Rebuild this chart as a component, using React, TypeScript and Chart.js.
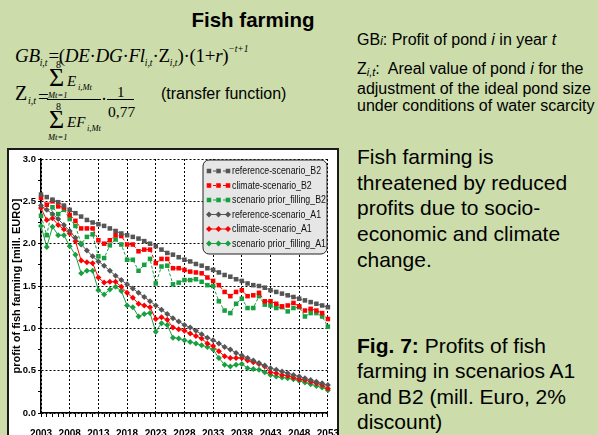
import React, { useEffect, useRef } from "react";
import { Chart, registerables } from "chart.js";

Chart.register(...registerables);

const YEARS = [
  2003, 2004, 2005, 2006, 2007, 2008, 2009, 2010, 2011, 2012,
  2013, 2014, 2015, 2016, 2017, 2018, 2019, 2020, 2021, 2022,
  2023, 2024, 2025, 2026, 2027, 2028, 2029, 2030, 2031, 2032,
  2033, 2034, 2035, 2036, 2037, 2038, 2039, 2040, 2041, 2042,
  2043, 2044, 2045, 2046, 2047, 2048, 2049, 2050, 2051, 2052, 2053,
];

const REF_B2 = [
  2.58, 2.55, 2.52, 2.49, 2.45, 2.4, 2.36, 2.32, 2.28, 2.25,
  2.23, 2.21, 2.18, 2.15, 2.12, 2.1, 2.08, 2.06, 2.03, 2.0,
  1.97, 1.93, 1.89, 1.87, 1.84, 1.81, 1.79, 1.76, 1.74, 1.71,
  1.69, 1.66, 1.63, 1.61, 1.58, 1.56, 1.53, 1.51, 1.5, 1.48,
  1.45, 1.43, 1.41, 1.39, 1.37, 1.35, 1.33, 1.31, 1.29, 1.27, 1.25,
];
const CLIMATE_B2 = [
  2.54, 2.46, 2.5, 2.44, 2.43, 2.34, 2.27, 2.18, 2.18, 2.18,
  2.04, 2.0, 2.04, 2.1, 2.09, 1.99, 1.99, 1.91, 1.93, 1.93,
  1.77, 1.82, 1.82, 1.71, 1.71, 1.69, 1.67, 1.66, 1.65, 1.6,
  1.56, 1.51, 1.43, 1.38, 1.43, 1.45, 1.38, 1.39, 1.42, 1.32,
  1.32, 1.29, 1.26, 1.27, 1.3, 1.26, 1.21, 1.23, 1.21, 1.18, 1.11,
];
const PRIOR_B2 = [
  2.33, 2.1, 2.43, 2.35, 2.4, 2.29, 2.21, 2.0, 2.08, 2.11,
  1.85, 1.83, 1.98, 2.05, 1.99, 1.81, 1.81, 1.68, 1.75, 1.82,
  1.53, 1.73, 1.74, 1.52, 1.54, 1.57, 1.57, 1.58, 1.55, 1.51,
  1.5, 1.32, 1.21, 1.18, 1.29, 1.35, 1.24, 1.24, 1.38, 1.28,
  1.27, 1.24, 1.25, 1.2, 1.24, 1.25, 1.14, 1.18, 1.18, 1.14, 1.02,
];
const REF_A1 = [
  2.45, 2.4, 2.35, 2.29, 2.22, 2.15, 2.07, 1.99, 1.92, 1.85,
  1.79, 1.74, 1.68, 1.62, 1.57, 1.52, 1.47, 1.42, 1.37, 1.32,
  1.27, 1.22, 1.17, 1.12, 1.08, 1.04, 1.01, 0.97, 0.93, 0.89,
  0.86, 0.82, 0.78, 0.75, 0.71, 0.68, 0.65, 0.62, 0.59, 0.56,
  0.53, 0.51, 0.49, 0.47, 0.45, 0.43, 0.41, 0.39, 0.37, 0.35, 0.33,
];
const CLIMATE_A1 = [
  2.42, 2.28, 2.3, 2.22, 2.17, 2.12, 2.03, 1.8, 1.78, 1.77,
  1.6, 1.54, 1.55, 1.55, 1.49, 1.42, 1.36, 1.29, 1.27, 1.25,
  1.11, 1.13, 1.1, 1.01, 0.99, 0.97, 0.94, 0.91, 0.88, 0.82,
  0.79, 0.73, 0.67, 0.65, 0.65, 0.65, 0.62, 0.6, 0.58, 0.55,
  0.48, 0.47, 0.45, 0.44, 0.42, 0.4, 0.39, 0.37, 0.35, 0.33, 0.29,
];
const PRIOR_A1 = [
  2.21, 1.96, 2.2, 2.1, 2.1, 1.97, 1.87, 1.65, 1.68, 1.68,
  1.45, 1.4, 1.46, 1.49, 1.44, 1.27, 1.25, 1.14, 1.17, 1.18,
  0.96, 1.06, 1.04, 0.89, 0.88, 0.86, 0.84, 0.82, 0.8, 0.78,
  0.75, 0.65, 0.57, 0.55, 0.57, 0.58, 0.53, 0.52, 0.51, 0.48,
  0.45, 0.43, 0.42, 0.41, 0.4, 0.38, 0.36, 0.34, 0.32, 0.3, 0.27,
];

const SERIES_LABELS = [
  "reference-scenario_B2",
  "climate-scenario_B2",
  "scenario prior_filling_B2",
  "reference-scenario_A1",
  "climate-scenario_A1",
  "scenario prior_filling_A1",
];

const X_MAJOR_TICKS = [2003, 2008, 2013, 2018, 2023, 2028, 2033, 2038, 2043, 2048, 2053];
const Y_MAJOR_TICKS = [0, 0.5, 1.0, 1.5, 2.0, 2.5, 3.0];
const Y_TITLE = "profit of fish farming [mill. EURO]";

const SANS = '"Liberation Sans", Arial, Helvetica, sans-serif';
const SERIF = '"Liberation Serif", "Times New Roman", Times, serif';

const GREY = "#555555";
const RED = "#ff0000";
const GREEN = "#16a040";

const isMajor = (list: number[], v: number) => list.some((t) => Math.abs(t - v) < 1e-6);

function drawMarker(ctx: CanvasRenderingContext2D, style: string, x: number, y: number, r: number) {
  ctx.beginPath();
  if (style === "rect") {
    const s = r * Math.SQRT1_2;
    ctx.rect(x - s, y - s, 2 * s, 2 * s);
  } else {
    ctx.moveTo(x, y - r);
    ctx.lineTo(x + r, y);
    ctx.lineTo(x, y + r);
    ctx.lineTo(x - r, y);
    ctx.closePath();
  }
  ctx.fill();
}

const boxLegend = {
  id: "boxLegend",
  afterDraw(chart: any) {
    const ctx: CanvasRenderingContext2D = chart.ctx;
    const x0 = 194, y0 = 10, w = 124, h = 94, r = 6;
    ctx.save();
    ctx.beginPath();
    ctx.moveTo(x0 + r, y0);
    ctx.arcTo(x0 + w, y0, x0 + w, y0 + h, r);
    ctx.arcTo(x0 + w, y0 + h, x0, y0 + h, r);
    ctx.arcTo(x0, y0 + h, x0, y0, r);
    ctx.arcTo(x0, y0, x0 + w, y0, r);
    ctx.closePath();
    ctx.fillStyle = "#e6e6e6";
    ctx.fill();
    ctx.lineWidth = 1;
    ctx.strokeStyle = "#222222";
    ctx.stroke();
    chart.data.datasets.forEach((ds: any, i: number) => {
      const cy = y0 + 11 + i * 14.5;
      ctx.strokeStyle = ds.borderColor;
      ctx.fillStyle = ds.borderColor;
      ctx.lineWidth = 1;
      ctx.setLineDash(ds.borderDash || []);
      ctx.beginPath();
      ctx.moveTo(x0 + 5, cy);
      ctx.lineTo(x0 + 26, cy);
      ctx.stroke();
      ctx.setLineDash([]);
      [x0 + 6, x0 + 15.5, x0 + 25].forEach((mx) => drawMarker(ctx, ds.pointStyle, mx, cy, ds.pointRadius));
      ctx.save();
      ctx.translate(x0 + 29, cy + 0.5);
      ctx.scale(0.88, 1);
      ctx.fillStyle = "#111111";
      ctx.font = `10px ${SANS}`;
      ctx.textBaseline = "middle";
      ctx.textAlign = "left";
      ctx.fillText(ds.label, 0, 0);
      ctx.restore();
    });
    ctx.restore();
  },
};

function FishChart() {
  const ref = useRef<HTMLCanvasElement | null>(null);
  useEffect(() => {
    const mk = (label: string, values: number[], color: string, b2: boolean) => ({
      label,
      data: YEARS.map((x, i) => ({ x, y: values[i] })),
      borderColor: color,
      backgroundColor: color,
      pointBackgroundColor: color,
      pointBorderColor: color,
      borderWidth: 1,
      borderDash: b2 ? [3, 2] : [],
      pointStyle: b2 ? "rect" : "rectRot",
      pointRadius: b2 ? 3.2 : 3,
      pointBorderWidth: 0,
      tension: 0,
      clip: false,
    });
    const chart = new Chart(ref.current as HTMLCanvasElement, {
      type: "line",
      data: {
        datasets: [
          mk(SERIES_LABELS[0], REF_B2, GREY, true),
          mk(SERIES_LABELS[1], CLIMATE_B2, RED, true),
          mk(SERIES_LABELS[2], PRIOR_B2, GREEN, true),
          mk(SERIES_LABELS[3], REF_A1, GREY, false),
          mk(SERIES_LABELS[4], CLIMATE_A1, RED, false),
          mk(SERIES_LABELS[5], PRIOR_A1, GREEN, false),
        ] as any,
      },
      options: {
        animation: false,
        responsive: false,
        devicePixelRatio: 1,
        events: [],
        layout: { padding: { left: 0, top: 9, right: 22, bottom: 7 } },
        plugins: { legend: { display: false }, tooltip: { enabled: false } },
        scales: {
          x: {
            type: "linear",
            min: 2003,
            max: 2053,
            ticks: {
              stepSize: 1,
              autoSkip: false,
              maxRotation: 0,
              minRotation: 0,
              padding: 11,
              color: "#000",
              font: { family: SANS, size: 10, weight: "bold" },
              callback: (v: any) => (isMajor(X_MAJOR_TICKS, Number(v)) ? String(v) : ""),
            },
            grid: {
              color: (c: any) => (c.tick && isMajor(X_MAJOR_TICKS, c.tick.value) ? "#000" : "rgba(0,0,0,0)"),
              lineWidth: 1,
              tickColor: "#000",
              tickLength: 4,
            },
            border: { color: "#000", width: 1.5, dash: [2, 2] },
            afterFit: (s: any) => {
              s.height = 30;
            },
          },
          y: {
            type: "linear",
            min: 0,
            max: 3,
            ticks: {
              stepSize: 0.25,
              autoSkip: false,
              padding: 2,
              color: "#000",
              font: { family: SANS, size: 9.5, weight: "bold" },
              callback: (v: any) => (isMajor(Y_MAJOR_TICKS, Number(v)) ? Number(v).toFixed(1) : ""),
            },
            grid: {
              color: (c: any) => (c.tick && isMajor(Y_MAJOR_TICKS, c.tick.value) ? "#000" : "rgba(0,0,0,0)"),
              lineWidth: 1,
              tickColor: "#000",
              tickLength: 3,
            },
            border: { color: "#000", width: 1.5, dash: [2, 2] },
            title: {
              display: true,
              text: Y_TITLE,
              color: "#000",
              font: { family: SANS, size: 11, weight: "bold" },
              padding: { top: 1, bottom: 0 },
            },
            afterFit: (s: any) => {
              s.width = 32;
            },
          },
        },
      } as any,
      plugins: [boxLegend],
    });
    return () => chart.destroy();
  }, []);
  return (
    <canvas
      ref={ref}
      width={341}
      height={300}
      style={{ position: "absolute", left: 9, top: 150, width: 341, height: 300 }}
    />
  );
}

const Txt = ({ x, y, size, serif = false, italic = false, bold = false, children, ls = 0 }: any) => (
  <div
    style={{
      position: "absolute",
      left: x,
      top: y - (serif ? 0.8375 : 0.8465) * size,
      fontSize: size,
      lineHeight: `${size}px`,
      fontFamily: serif ? SERIF : SANS,
      fontStyle: italic ? "italic" : "normal",
      fontWeight: bold ? "bold" : "normal",
      whiteSpace: "nowrap",
      letterSpacing: ls,
    }}
  >
    {children}
  </div>
);

const Para = ({ x, y, size, lh, children }: any) => (
  <div
    style={{
      position: "absolute",
      left: x,
      top: y - ((lh - 1.117 * size) / 2 + 0.905 * size),
      fontSize: size,
      lineHeight: `${lh}px`,
      fontFamily: SANS,
      whiteSpace: "nowrap",
    }}
  >
    {children}
  </div>
);

const Sb = ({ children }: any) => (
  <span style={{ fontSize: 9.5, fontStyle: "italic", position: "relative", top: 4, letterSpacing: 0 }}>{children}</span>
);
const Sp = ({ children }: any) => (
  <span style={{ fontSize: 9.5, fontStyle: "italic", position: "relative", top: -10, letterSpacing: 0 }}>{children}</span>
);

const Bar = ({ x, y, w }: any) => (
  <div style={{ position: "absolute", left: x, top: y, width: w, height: 1, background: "#000" }} />
);

export default function App() {
  return (
    <div
      style={{
        position: "fixed",
        left: 0,
        top: 0,
        width: 598,
        height: 435,
        overflow: "hidden",
        background: "#ccdcab",
        color: "#000",
        fontFamily: SANS,
      }}
    >
      {/* title */}
      <div
        style={{
          position: "absolute",
          left: 153,
          top: 10.2,
          width: 200,
          textAlign: "center",
          fontSize: 20.5,
          lineHeight: "20px",
          fontWeight: "bold",
          fontFamily: SANS,
        }}
      >
        Fish farming
      </div>

      {/* formula 1 */}
      <Txt x={15} y={62} size={19} serif ls={-0.3}>
        <i>GB</i>
        <Sb>i,t</Sb>
        <span style={{ marginLeft: 1 }}>=</span>(<i>DE</i>·<i>DG</i>·<i>Fl</i>
        <Sb>i,t</Sb>·Z<Sb>i,t</Sb>)·(1+<i>r</i>)<Sp>−t+1</Sp>
      </Txt>

      {/* formula 2 */}
      <Txt x={15} y={100} size={20} serif>Z</Txt>
      <Txt x={28} y={104} size={10} serif italic>i,t</Txt>
      <Txt x={38} y={103} size={19} serif>=</Txt>
      <Txt x={56} y={68} size={10} serif>8</Txt>
      <Txt x={49} y={87} size={26} serif>Σ</Txt>
      <Txt x={67} y={87} size={15} serif italic>E</Txt>
      <Txt x={78} y={90} size={8.5} serif italic>i,Mt</Txt>
      <Txt x={48} y={98.5} size={8.5} serif italic>Mt=1</Txt>
      <Bar x={47} y={99} w={54} />
      <Txt x={56} y={110} size={10} serif>8</Txt>
      <Txt x={49} y={129} size={26} serif>Σ</Txt>
      <Txt x={67} y={128} size={15} serif italic>EF</Txt>
      <Txt x={87} y={131} size={8.5} serif italic>i,Mt</Txt>
      <Txt x={48} y={140} size={8.5} serif italic>Mt=1</Txt>
      <Txt x={101} y={105} size={18} serif>·</Txt>
      <Txt x={117} y={98} size={15} serif>1</Txt>
      <Bar x={107} y={99} w={27} />
      <Txt x={108} y={117} size={15.5} serif>0,77</Txt>
      <Txt x={161} y={100} size={16}>(transfer function)</Txt>

      {/* definitions */}
      <Txt x={357} y={46} size={16}>
        GB<i style={{ fontSize: 12 }}>i</i>: Profit of pond <i>i</i> in year <i>t</i>
      </Txt>
      <Para x={357} y={74.3} size={16} lh={17.5}>
        Z<i style={{ fontSize: 11, position: "relative", top: 2 }}>i,t</i>:&nbsp; Areal value of pond <i>i</i> for the
        <br />
        adjustment of the ideal pond size
        <br />
        under conditions of water scarcity
      </Para>

      <Para x={357} y={164.3} size={21} lh={25.6}>
        Fish farming is
        <br />
        threatened by reduced
        <br />
        profits due to socio-
        <br />
        economic and climate
        <br />
        change.
      </Para>

      <Para x={357} y={352.7} size={21} lh={25.6}>
        <b>Fig. 7:</b> Profits of fish
        <br />
        farming in scenarios A1
        <br />
        and B2 (mill. Euro, 2%
        <br />
        discount)
      </Para>

      {/* chart frame */}
      <div
        style={{
          position: "absolute",
          left: 7,
          top: 148,
          width: 332,
          height: 400,
          boxSizing: "border-box",
          border: "2px solid #1a1a1a",
          background: "#ffffff",
        }}
      />
      <FishChart />
    </div>
  );
}
